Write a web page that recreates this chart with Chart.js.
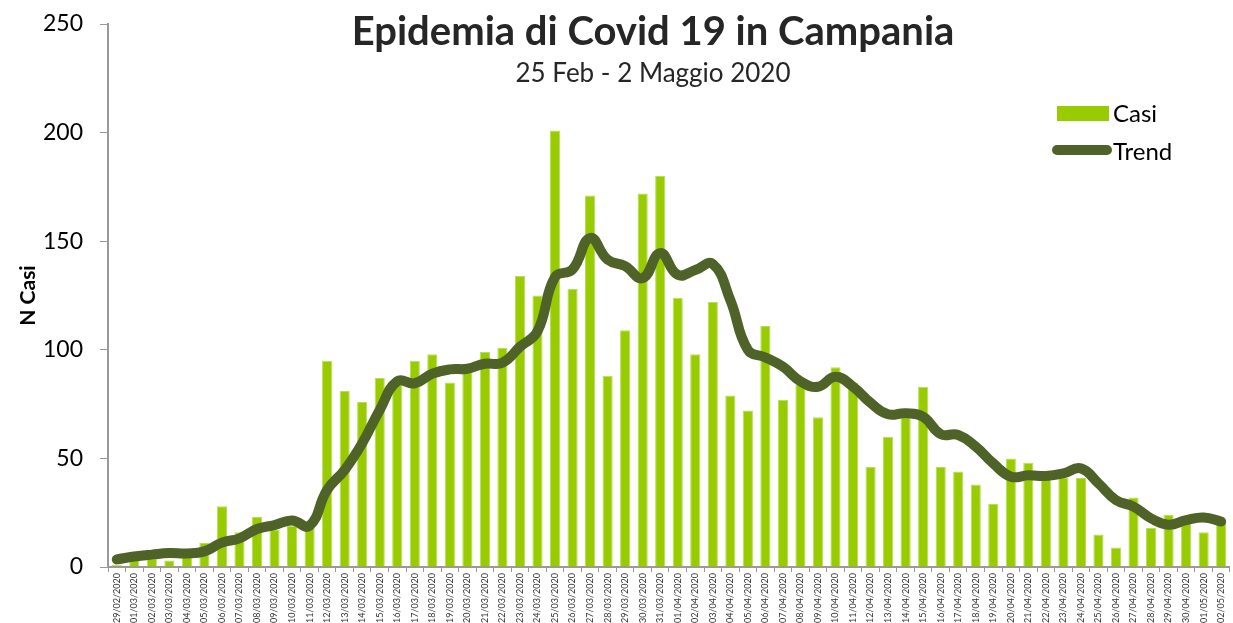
<!DOCTYPE html>
<html lang="it">
<head>
    <meta charset="UTF-8">
    <title>Epidemia di Covid 19 in Campania</title>
    <script src="https://cdn.jsdelivr.net/npm/chart.js"></script>
    <style>
        html, body { margin: 0; padding: 0; background: #fff; }
        .chart-container { width: 1233px; height: 623px; }
    </style>
</head>
<body>
    <div class="chart-container">
        <canvas id="covidChart"></canvas>
    </div>

    <script>
        // Dates on the x axis
        const dateLabels = [
            '29/02/2020',
            '01/03/2020', '02/03/2020', '03/03/2020', '04/03/2020', '05/03/2020', '06/03/2020', '07/03/2020', '08/03/2020',
            '09/03/2020', '10/03/2020', '11/03/2020', '12/03/2020', '13/03/2020', '14/03/2020', '15/03/2020', '16/03/2020',
            '17/03/2020', '18/03/2020', '19/03/2020', '20/03/2020', '21/03/2020', '22/03/2020', '23/03/2020', '24/03/2020',
            '25/03/2020', '26/03/2020', '27/03/2020', '28/03/2020', '29/03/2020', '30/03/2020', '31/03/2020',
            '01/04/2020', '02/04/2020', '03/04/2020', '04/04/2020', '05/04/2020', '06/04/2020', '07/04/2020', '08/04/2020',
            '09/04/2020', '10/04/2020', '11/04/2020', '12/04/2020', '13/04/2020', '14/04/2020', '15/04/2020', '16/04/2020',
            '17/04/2020', '18/04/2020', '19/04/2020', '20/04/2020', '21/04/2020', '22/04/2020', '23/04/2020', '24/04/2020',
            '25/04/2020', '26/04/2020', '27/04/2020', '28/04/2020', '29/04/2020', '30/04/2020',
            '01/05/2020', '02/05/2020'
        ];

        // New cases per day
        const casi = [
            1, 7, 4, 3, 7, 11, 28, 16, 23, 17, 19, 18, 95, 81, 76, 87,
            85, 95, 98, 85, 90, 99, 101, 134, 125, 201, 128, 171, 88, 109, 172, 180,
            124, 98, 122, 79, 72, 111, 77, 84, 69, 92, 85, 46, 60, 69, 83, 46,
            44, 38, 29, 50, 48, 41, 41, 41, 15, 9, 32, 18, 24, 21, 16, 20
        ];

        // Smoothed trend
        const trend = [
            3.5, 4.8, 5.7, 6.4, 6.2, 7.2, 11.2, 13.2, 17.5, 19.3, 21.4, 19.0, 35.5, 44.7, 57, 72.3,
            85.5, 84.6, 89.0, 91.0, 91.3, 93.6, 94.0, 101.4, 108.5, 133.5, 137.0, 151.5, 141.5, 138.5, 133.0, 144.5,
            134.5, 136.7, 139.5, 122.9, 100, 96.5, 92.2, 85.5, 83, 87.6, 83, 75.6, 70.3, 70.8, 69.2, 61.2,
            60.8, 55.4, 47.7, 41.6, 42.2, 41.9, 43.1, 45.4, 38.5, 30.8, 27.8, 22.4, 19.5, 21.6, 22.8, 20.9
        ];

        const titleText = 'Epidemia di Covid 19 in Campania';
        const subtitleText = '25 Feb - 2 Maggio 2020';
        const FONT = 'Lato, "Open Sans", sans-serif';

        // Title, subtitle and legend are drawn over the plot area like in the original
        const overlayPlugin = {
            id: 'overlay',
            afterDraw(chart) {
                const ctx = chart.ctx;
                ctx.save();
                ctx.fillStyle = '#262626';
                ctx.textAlign = 'center';
                ctx.textBaseline = 'middle';
                ctx.font = 'bold 40px ' + FONT;
                ctx.fillText(titleText, 653, 32);
                ctx.font = '26px ' + FONT;
                ctx.fillText(subtitleText, 653, 74);

                // legend
                ctx.textAlign = 'left';
                ctx.fillStyle = '#99CC00';
                ctx.fillRect(1057, 106, 52, 15);
                ctx.strokeStyle = '#4F6228';
                ctx.lineWidth = 10;
                ctx.lineCap = 'round';
                ctx.beginPath();
                ctx.moveTo(1057, 150);
                ctx.lineTo(1107, 150);
                ctx.stroke();
                ctx.fillStyle = '#000';
                ctx.font = '24px ' + FONT;
                ctx.fillText('Casi', 1113, 114);
                ctx.fillText('Trend', 1113, 152);
                ctx.restore();
            }
        };

        new Chart(document.getElementById('covidChart'), {
            type: 'bar',
            data: {
                labels: dateLabels,
                datasets: [
                    {
                        type: 'line',
                        label: 'Trend',
                        data: trend,
                        borderColor: '#4F6228',
                        borderWidth: 10,
                        borderCapStyle: 'round',
                        borderJoinStyle: 'round',
                        pointRadius: 0,
                        tension: 0.45,
                        order: 0
                    },
                    {
                        label: 'Casi',
                        data: casi,
                        backgroundColor: '#99CC00',
                        borderColor: '#B8DD5A',
                        borderWidth: 1,
                        barPercentage: 0.58,
                        categoryPercentage: 1.0,
                        order: 1
                    }
                ]
            },
            options: {
                responsive: true,
                maintainAspectRatio: false,
                animation: false,
                layout: { padding: { top: 24, right: 3, left: 0, bottom: 0 } },
                plugins: {
                    legend: { display: false },
                    title: { display: false },
                    tooltip: { enabled: false }
                },
                scales: {
                    x: {
                        afterFit: s => { s.height = 56; },
                        grid: {
                            drawOnChartArea: false,
                            drawTicks: true,
                            tickLength: 5,
                            color: '#999999',
                            offset: true
                        },
                        border: { color: '#999999', width: 2 },
                        ticks: {
                            autoSkip: false,
                            maxRotation: 90,
                            minRotation: 90,
                            padding: 1,
                            color: '#333333',
                            font: { family: FONT, size: 9 }
                        }
                    },
                    y: {
                        min: 0,
                        max: 250,
                        afterFit: s => {
                            s.width = 108;
                            s.paddingTop = 0;
                            s.paddingBottom = 0;
                        },
                        grid: {
                            drawOnChartArea: false,
                            drawTicks: true,
                            tickLength: 8,
                            color: '#999999'
                        },
                        border: { color: '#999999', width: 2 },
                        ticks: {
                            stepSize: 50,
                            padding: 17,
                            color: '#000',
                            font: { family: FONT, size: 23 }
                        },
                        title: {
                            display: true,
                            text: 'N Casi',
                            color: '#000',
                            padding: { top: 16, bottom: 0 },
                            font: { family: FONT, size: 21, weight: 'bold' }
                        }
                    }
                }
            },
            plugins: [overlayPlugin]
        });
    </script>
</body>
</html>
